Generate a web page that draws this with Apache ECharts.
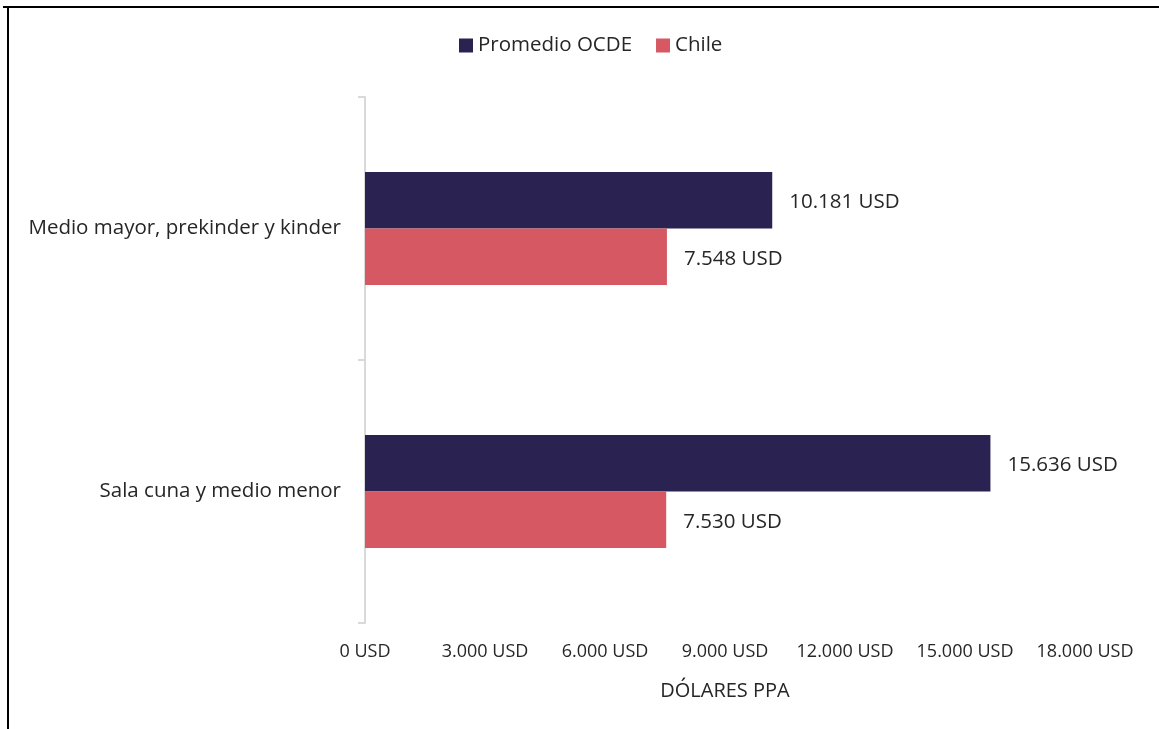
<!DOCTYPE html>
<html>
<head>
<meta charset="utf-8">
<script src="https://cdn.jsdelivr.net/npm/echarts@6/dist/echarts.min.js"></script>
<style>
  html, body { margin: 0; padding: 0; background: #ffffff; }
  #chart { width: 1159px; height: 729px; }
</style>
</head>
<body>
<div id="chart"></div>
<script>
// Categories listed bottom-to-top (ECharts category y-axis grows upward)
const categories = ['Sala cuna y medio menor', 'Medio mayor, prekinder y kinder'];
const ocdeValues = [15636, 10181];
const chileValues = [7530, 7548];
const seriesNames = ['Promedio OCDE', 'Chile'];
const axisMax = 18000;
const axisStep = 3000;
const axisName = 'DÓLARES PPA';

const FONT = '"Open Sans", "Noto Sans", sans-serif';
const TEXT = '#262626';

function fmtUSD(v) {
  const s = String(Math.round(v)).replace(/\B(?=(\d{3})+(?!\d))/g, '.');
  return s + ' USD';
}

const chart = echarts.init(document.getElementById('chart'), null, { renderer: 'canvas' });

const valueLabel = {
  show: true,
  position: 'right',
  distance: 17,
  offset: [0, 2],
  fontFamily: FONT,
  fontSize: 20.5,
  color: TEXT,
  formatter: p => fmtUSD(p.value)
};

chart.setOption({
  animation: false,
  backgroundColor: '#ffffff',
  legend: {
    data: seriesNames,
    top: 30,
    left: 454,
    itemWidth: 14,
    itemHeight: 14,
    itemGap: 24,
    icon: 'rect',
    textStyle: { fontFamily: FONT, fontSize: 20.5, color: TEXT }
  },
  grid: { left: 365, right: 74, top: 97, bottom: 106, containLabel: false },
  xAxis: {
    type: 'value',
    min: 0,
    max: axisMax,
    interval: axisStep,
    name: axisName,
    nameLocation: 'middle',
    nameGap: 58,
    nameTextStyle: { fontFamily: FONT, fontSize: 20, color: TEXT },
    axisLine: { show: false },
    axisTick: { show: false },
    splitLine: { show: false },
    axisLabel: {
      margin: 20,
      fontFamily: FONT,
      fontSize: 18,
      color: TEXT,
      formatter: v => fmtUSD(v)
    }
  },
  yAxis: {
    type: 'category',
    data: categories,
    axisLine: { show: true, lineStyle: { color: '#d9d9d9', width: 2 } },
    axisTick: { show: true, length: 7, alignWithLabel: false, lineStyle: { color: '#d9d9d9', width: 2 } },
    axisLabel: { margin: 24, fontFamily: FONT, fontSize: 20.5, color: TEXT }
  },
  series: [
    {
      name: 'Promedio OCDE',
      type: 'bar',
      data: ocdeValues,
      barGap: '0%',
      barCategoryGap: '57%',
      itemStyle: { color: '#2a2352' },
      label: valueLabel
    },
    {
      name: 'Chile',
      type: 'bar',
      data: chileValues,
      barGap: '0%',
      barCategoryGap: '57%',
      itemStyle: { color: '#d55863' },
      label: valueLabel
    }
  ],
  graphic: [
    { type: 'line', shape: { x1: 3, y1: 7, x2: 1159, y2: 7 }, style: { stroke: '#000000', lineWidth: 2 } },
    { type: 'line', shape: { x1: 8, y1: 7, x2: 8, y2: 729 }, style: { stroke: '#000000', lineWidth: 2 } }
  ]
});
</script>
</body>
</html>
